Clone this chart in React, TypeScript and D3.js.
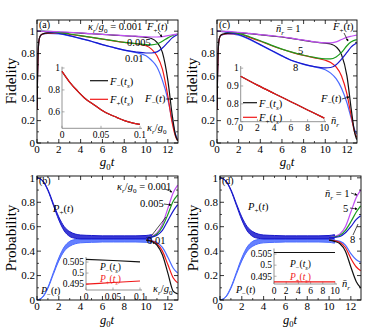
import React from 'react';
import * as d3 from 'd3';

// ---------- data ----------
const tPlus = [0, 1, 2, 3, 4, 5, 6, 7, 8, 9, 10, 10.5, 11, 11.5, 12, 12.4, 12.9];
const tMinus = [0, 0.05, 0.1, 0.2, 0.35, 0.6, 1, 2, 3, 4, 5, 6, 7, 8, 9, 10, 10.5, 11, 11.5, 12, 12.4, 12.7, 12.9];

// (a) fidelity, kappa_r/g0 = 0.001, 0.005, 0.01
const aPlus001 = [1, 0.999, 0.995, 0.99, 0.985, 0.978, 0.972, 0.966, 0.96, 0.955, 0.95, 0.948, 0.948, 0.952, 0.96, 0.967, 0.975];
const aPlus005 = [1, 0.998, 0.99, 0.975, 0.96, 0.945, 0.93, 0.915, 0.9, 0.89, 0.88, 0.878, 0.885, 0.91, 0.94, 0.96, 0.975];
const aPlus01 = [1, 0.995, 0.98, 0.96, 0.935, 0.91, 0.88, 0.855, 0.83, 0.815, 0.805, 0.805, 0.815, 0.85, 0.9, 0.94, 0.97];
const aMinus001 = [0.3, 0.6, 0.8, 0.93, 0.965, 0.978, 0.985, 0.99, 0.988, 0.983, 0.977, 0.971, 0.965, 0.959, 0.953, 0.945, 0.935, 0.9, 0.81, 0.56, 0.25, 0.07, 0.02];
const aMinus005 = [0.3, 0.6, 0.8, 0.93, 0.965, 0.977, 0.983, 0.985, 0.972, 0.958, 0.944, 0.929, 0.914, 0.9, 0.888, 0.87, 0.84, 0.78, 0.66, 0.42, 0.18, 0.06, 0.02];
const aMinus01 = [0.3, 0.6, 0.8, 0.93, 0.963, 0.975, 0.98, 0.975, 0.957, 0.933, 0.908, 0.879, 0.854, 0.83, 0.81, 0.78, 0.74, 0.68, 0.56, 0.39, 0.2, 0.08, 0.03];

// (c) fidelity, n_r = 1, 5, 8
const cPlus1 = [1, 0.998, 0.99, 0.98, 0.97, 0.96, 0.95, 0.935, 0.92, 0.905, 0.895, 0.895, 0.905, 0.925, 0.945, 0.955, 0.965];
const cPlus5 = [1, 0.995, 0.98, 0.95, 0.915, 0.875, 0.84, 0.81, 0.785, 0.765, 0.752, 0.752, 0.77, 0.81, 0.87, 0.905, 0.925];
const cPlus8 = [1, 0.99, 0.97, 0.93, 0.88, 0.83, 0.78, 0.735, 0.705, 0.683, 0.672, 0.675, 0.7, 0.75, 0.81, 0.86, 0.895];
const cMinus1 = [0.3, 0.6, 0.8, 0.93, 0.965, 0.975, 0.982, 0.985, 0.978, 0.968, 0.958, 0.948, 0.933, 0.918, 0.903, 0.893, 0.885, 0.86, 0.79, 0.6, 0.3, 0.1, 0.03];
const cMinus5 = [0.3, 0.6, 0.8, 0.93, 0.963, 0.973, 0.978, 0.975, 0.945, 0.91, 0.872, 0.838, 0.808, 0.783, 0.762, 0.74, 0.72, 0.68, 0.6, 0.44, 0.24, 0.1, 0.05];
const cMinus8 = [0.3, 0.6, 0.8, 0.93, 0.96, 0.97, 0.975, 0.965, 0.925, 0.877, 0.827, 0.777, 0.733, 0.703, 0.68, 0.655, 0.625, 0.575, 0.49, 0.36, 0.22, 0.12, 0.08];

// (b),(d) probability: common oscillating part (envelopes) and the diverging tails
const tBand = [0, 0.5, 1, 1.5, 2, 2.5, 3, 3.5, 4, 5, 6, 7, 8, 9, 10, 10.5];
const plusHi = [1, 0.98, 0.905, 0.79, 0.68, 0.6, 0.56, 0.54, 0.532, 0.528, 0.525, 0.525, 0.525, 0.525, 0.528, 0.535];
const plusLo = [1, 0.975, 0.895, 0.775, 0.655, 0.565, 0.52, 0.505, 0.5, 0.5, 0.5, 0.5, 0.5, 0.5, 0.5, 0.505];
const minusHi = [0, 0.025, 0.105, 0.225, 0.345, 0.435, 0.48, 0.495, 0.5, 0.5, 0.5, 0.5, 0.5, 0.5, 0.5, 0.495];
const minusLo = [0, 0.02, 0.095, 0.21, 0.32, 0.4, 0.44, 0.46, 0.468, 0.472, 0.475, 0.475, 0.475, 0.475, 0.472, 0.465];

const tTail = [10, 10.5, 11, 11.5, 12, 12.5, 12.9];
const bPlus001 = [0.51, 0.52, 0.55, 0.62, 0.75, 0.88, 0.94];
const bPlus005 = [0.51, 0.515, 0.54, 0.6, 0.7, 0.81, 0.86];
const bPlus01 = [0.51, 0.515, 0.53, 0.57, 0.65, 0.73, 0.78];
const bMinus001 = [0.49, 0.48, 0.45, 0.37, 0.22, 0.07, 0.05];
const bMinus005 = [0.49, 0.485, 0.46, 0.4, 0.29, 0.18, 0.14];
const bMinus01 = [0.49, 0.485, 0.47, 0.43, 0.35, 0.26, 0.22];

const dPlus1 = [0.51, 0.52, 0.54, 0.6, 0.72, 0.84, 0.9];
const dPlus5 = [0.51, 0.515, 0.53, 0.57, 0.64, 0.72, 0.77];
const dPlus8 = [0.51, 0.512, 0.52, 0.55, 0.6, 0.66, 0.69];
const dMinus1 = [0.49, 0.48, 0.46, 0.4, 0.27, 0.15, 0.1];
const dMinus5 = [0.49, 0.485, 0.47, 0.43, 0.34, 0.27, 0.24];
const dMinus8 = [0.49, 0.488, 0.48, 0.45, 0.38, 0.33, 0.31];

// insets
const insAx = [0, 0.01, 0.02, 0.03, 0.04, 0.05, 0.06, 0.07, 0.08, 0.09, 0.1];
const insAplus = [0.97, 0.87, 0.79, 0.72, 0.67, 0.62, 0.58, 0.55, 0.52, 0.5, 0.485];
const insAminus = [0.97, 0.87, 0.79, 0.72, 0.67, 0.62, 0.58, 0.55, 0.52, 0.5, 0.485];
const insCx = [0, 2, 4, 6, 8, 10];
const insCplus = [0.955, 0.905, 0.858, 0.812, 0.766, 0.72];
const insCminus = [0.955, 0.905, 0.858, 0.812, 0.766, 0.72];
const insBx = [0, 0.05, 0.1];
const insBminus = [0.5062, 0.5057, 0.5051];
const insBplus = [0.495, 0.4957, 0.4964];
const insDx = [0, 5, 10];
const insDminus = [0.5057, 0.5057, 0.5057];
const insDplus = [0.4925, 0.4925, 0.4925];

// ticks
const xMajor = [0, 2, 4, 6, 8, 10, 12];
const xMinor = [1, 3, 5, 7, 9, 11];
const yMajor = [0, 0.2, 0.4, 0.6, 0.8, 1];
const yMinor = [0.1, 0.3, 0.5, 0.7, 0.9];

const FONT = "'Liberation Serif','Times New Roman',serif";
const PURPLE = '#c050f2';
const GREEN = '#1c9c1c';
const BLUE = '#1818cc';
const BLACK = '#111';
const RED = '#f01818';
const LBLUE = '#4a6aff';

type Pt = [number, number];
type Sc = d3.ScaleLinear<number, number>;
type Part = [string, string];
const zip = (xs: number[], ys: number[]): Pt[] => xs.map((x, i) => [x, ys[i]]);

const F_PLUS_T: Part[] = [['F', 'i'], ['+', 's'], ['(', ''], ['t', 'i'], [')', '']];
const F_MINUS_T: Part[] = [['F', 'i'], ['\u2212', 's'], ['(', ''], ['t', 'i'], [')', '']];
const F_PLUS_TS: Part[] = [['F', 'i'], ['+', 's'], ['(', ''], ['t', 'i'], ['s', 'si'], [')', '']];
const F_MINUS_TS: Part[] = [['F', 'i'], ['\u2212', 's'], ['(', ''], ['t', 'i'], ['s', 'si'], [')', '']];
const P_PLUS_T: Part[] = [['P', 'i'], ['+', 's'], ['(', ''], ['t', 'i'], [')', '']];
const P_MINUS_T: Part[] = [['P', 'i'], ['\u2212', 's'], ['(', ''], ['t', 'i'], [')', '']];
const P_PLUS_TS: Part[] = [['P', 'i'], ['+', 's'], ['(', ''], ['t', 'i'], ['s', 'si'], [')', '']];
const P_MINUS_TS: Part[] = [['P', 'i'], ['\u2212', 's'], ['(', ''], ['t', 'i'], ['s', 'si'], [')', '']];
const KAPPA: Part[] = [['\u03BA', 'i'], ['r', 'si'], ['/', ''], ['g', 'i'], ['0', 's']];
const NBAR: Part[] = [['n\u0304', 'i'], ['r', 'si']];
const G0T: Part[] = [['g', 'i'], ['0', 's'], ['t', 'i']];

function Rich({ x, y, parts, size = 10.5, fill = '#000', anchor = 'start' }:
  { x: number; y: number; parts: Part[]; size?: number; fill?: string; anchor?: string }) {
  let shift = 0;
  return (
    <text x={x} y={y} fontSize={size} fill={fill} textAnchor={anchor} fontFamily={FONT}>
      {parts.map(([s, st], i) => {
        const isSub = st.includes('s');
        const target = isSub ? size * 0.3 : 0;
        const dy = target - shift;
        shift = target;
        return (
          <tspan key={i} dy={dy} fontStyle={st.includes('i') ? 'italic' : 'normal'} fontSize={isSub ? size * 0.68 : size}>
            {s}
          </tspan>
        );
      })}
    </text>
  );
}

function Curve({ x, y, data, color, width = 1.2 }: { x: Sc; y: Sc; data: Pt[]; color: string; width?: number }) {
  const line = d3.line<Pt>().x(d => x(d[0])).y(d => y(d[1])).curve(d3.curveMonotoneX);
  return <path d={line(data) || ''} fill="none" stroke={color} strokeWidth={width} />;
}

function Band({ x, y, t, lo, hi, color }: { x: Sc; y: Sc; t: number[]; lo: number[]; hi: number[]; color: string }) {
  const area = d3.area<number>()
    .x((_, i) => x(t[i]))
    .y0((_, i) => y(lo[i]))
    .y1((_, i) => y(hi[i]))
    .curve(d3.curveMonotoneX);
  return <path d={area(t) || ''} fill={color} fillOpacity={0.85} stroke={color} strokeWidth={1} />;
}

function Frame({ x, y }: { x: Sc; y: Sc }) {
  const [x0, x1] = x.range();
  const [y0, y1] = y.range();
  return (
    <g fontFamily={FONT} fontSize={11}>
      <rect x={x0} y={y1} width={x1 - x0} height={y0 - y1} fill="none" stroke="#000" strokeWidth={0.9} />
      {xMajor.map(t => (
        <g key={'xm' + t}>
          <line x1={x(t)} x2={x(t)} y1={y0} y2={y0 - 4} stroke="#000" strokeWidth={0.8} />
          <line x1={x(t)} x2={x(t)} y1={y1} y2={y1 + 4} stroke="#000" strokeWidth={0.8} />
          <text x={x(t)} y={y0 + 9.5} textAnchor="middle">{t}</text>
        </g>
      ))}
      {xMinor.map(t => (
        <g key={'xn' + t}>
          <line x1={x(t)} x2={x(t)} y1={y0} y2={y0 - 2} stroke="#000" strokeWidth={0.7} />
          <line x1={x(t)} x2={x(t)} y1={y1} y2={y1 + 2} stroke="#000" strokeWidth={0.7} />
        </g>
      ))}
      {yMajor.map(v => (
        <g key={'ym' + v}>
          <line x1={x0} x2={x0 + 4} y1={y(v)} y2={y(v)} stroke="#000" strokeWidth={0.8} />
          <line x1={x1} x2={x1 - 4} y1={y(v)} y2={y(v)} stroke="#000" strokeWidth={0.8} />
          <text x={x0 - 2} y={y(v) + 3.8} textAnchor="end">{String(v)}</text>
        </g>
      ))}
      {yMinor.map(v => (
        <g key={'yn' + v}>
          <line x1={x0} x2={x0 + 2} y1={y(v)} y2={y(v)} stroke="#000" strokeWidth={0.7} />
          <line x1={x1} x2={x1 - 2} y1={y(v)} y2={y(v)} stroke="#000" strokeWidth={0.7} />
        </g>
      ))}
    </g>
  );
}

function InsetAxes({ x, y, xt, yt, xEnd }: { x: Sc; y: Sc; xt: number[]; yt: number[]; xEnd: number }) {
  const [x0] = x.range();
  const [y0, y1] = y.range();
  return (
    <g fontFamily={FONT} fontSize={9.5}>
      <line x1={x0} x2={x0} y1={y0} y2={y1} stroke="#888" strokeWidth={0.9} />
      <line x1={x0} x2={xEnd} y1={y0} y2={y0} stroke="#888" strokeWidth={0.9} />
      {xt.map(t => (
        <g key={'ix' + t}>
          <line x1={x(t)} x2={x(t)} y1={y0} y2={y0 - 2.5} stroke="#888" strokeWidth={0.7} />
          <text x={x(t)} y={y0 + 9.5} textAnchor="middle">{String(t)}</text>
        </g>
      ))}
      {yt.map(v => (
        <g key={'iy' + v}>
          <line x1={x0} x2={x0 + 2.5} y1={y(v)} y2={y(v)} stroke="#888" strokeWidth={0.7} />
          <text x={x0 - 2} y={y(v) + 3.3} textAnchor="end">{String(v)}</text>
        </g>
      ))}
    </g>
  );
}

function Arrow({ x1, y1, x2, y2 }: { x1: number; y1: number; x2: number; y2: number }) {
  return <line x1={x1} y1={y1} x2={x2} y2={y2} stroke="#000" strokeWidth={0.7} markerEnd="url(#ah)" />;
}

export default function App() {
  const xMax = 12.93;
  const yTop = d3.scaleLinear().domain([0, 1.1]).range([143, 20]);
  const yBot = d3.scaleLinear().domain([0, 1.015]).range([300, 176]);
  const xA = d3.scaleLinear().domain([0, xMax]).range([37, 178]);
  const xC = d3.scaleLinear().domain([0, xMax]).range([217, 357]);
  const xB = d3.scaleLinear().domain([0, xMax]).range([37, 178]);
  const xD = d3.scaleLinear().domain([0, xMax]).range([220, 361]);

  // insets
  const iaX = d3.scaleLinear().domain([0, 0.1]).range([62, 140]);
  const iaY = d3.scaleLinear().domain([0.45, 1.012]).range([128.3, 66.7]);
  const icX = d3.scaleLinear().domain([0, 10]).range([240.7, 324.3]);
  const icY = d3.scaleLinear().domain([0.7, 1.012]).range([121.7, 66]);
  const ibX = d3.scaleLinear().domain([0, 0.1]).range([86, 140]);
  const ibY = d3.scaleLinear().domain([0.4923, 0.5073]).range([290, 257]);
  const idX = d3.scaleLinear().domain([0, 10]).range([274, 335]);
  const idY = d3.scaleLinear().domain([0.4915, 0.5075]).range([284, 248.5]);

  const clip = (id: string, x: Sc, y: Sc) => {
    const [x0, x1] = x.range();
    const [y0, y1] = y.range();
    return <clipPath id={id}><rect x={x0} y={y1} width={x1 - x0} height={y0 - y1} /></clipPath>;
  };

  const probPanel = (x: Sc, id: string, p: number[][], m: number[][]) => (
    <g clipPath={`url(#${id})`}>
      <Band x={x} y={yBot} t={tBand} lo={minusLo} hi={minusHi} color={LBLUE} />
      <Curve x={x} y={yBot} data={zip(tTail, m[2])} color={LBLUE} />
      <Curve x={x} y={yBot} data={zip(tTail, m[1])} color={RED} />
      <Curve x={x} y={yBot} data={zip(tTail, m[0])} color={BLACK} />
      <Band x={x} y={yBot} t={tBand} lo={plusLo} hi={plusHi} color={BLUE} />
      <Curve x={x} y={yBot} data={zip(tTail, p[0])} color={PURPLE} />
      <Curve x={x} y={yBot} data={zip(tTail, p[1])} color={GREEN} />
      <Curve x={x} y={yBot} data={zip(tTail, p[2])} color={BLUE} />
    </g>
  );

  const fidPanel = (x: Sc, id: string, p: number[][], m: number[][]) => (
    <g clipPath={`url(#${id})`}>
      <Curve x={x} y={yTop} data={zip(tMinus, m[2])} color={LBLUE} />
      <Curve x={x} y={yTop} data={zip(tMinus, m[1])} color={RED} />
      <Curve x={x} y={yTop} data={zip(tMinus, m[0])} color={BLACK} />
      <Curve x={x} y={yTop} data={zip(tPlus, p[2])} color={BLUE} />
      <Curve x={x} y={yTop} data={zip(tPlus, p[1])} color={GREEN} />
      <Curve x={x} y={yTop} data={zip(tPlus, p[0])} color={PURPLE} />
    </g>
  );

  return (
    <svg width={390} height={329} style={{ position: 'absolute', left: 0, top: 0, background: '#fff' }}>
      <defs>
        {clip('clA', xA, yTop)}
        {clip('clC', xC, yTop)}
        {clip('clB', xB, yBot)}
        {clip('clD', xD, yBot)}
        <marker id="ah" viewBox="0 0 6 6" refX="5" refY="3" markerWidth="4" markerHeight="4" orient="auto">
          <path d="M0,0L6,3L0,6z" fill="#000" />
        </marker>
      </defs>

      {/* axis titles */}
      <text transform="translate(16,81) rotate(-90)" textAnchor="middle" fontFamily={FONT} fontSize={15}>Fidelity</text>
      <text transform="translate(16,238) rotate(-90)" textAnchor="middle" fontFamily={FONT} fontSize={15}>Probability</text>
      <text transform="translate(197,81) rotate(-90)" textAnchor="middle" fontFamily={FONT} fontSize={15}>Fidelity</text>
      <text transform="translate(198,238) rotate(-90)" textAnchor="middle" fontFamily={FONT} fontSize={15}>Probability</text>
      <Rich x={107} y={166} parts={G0T} size={13} anchor="middle" />
      <Rich x={287} y={166} parts={G0T} size={13} anchor="middle" />
      <Rich x={107} y={323.5} parts={G0T} size={12.5} anchor="middle" />
      <Rich x={290} y={323.5} parts={G0T} size={12.5} anchor="middle" />

      {/* (a) */}
      {fidPanel(xA, 'clA', [aPlus001, aPlus005, aPlus01], [aMinus001, aMinus005, aMinus01])}
      <Frame x={xA} y={yTop} />
      <InsetAxes x={iaX} y={iaY} xt={[0, 0.05, 0.1]} yt={[0.6, 0.8, 1]} xEnd={142} />
      <Curve x={iaX} y={iaY} data={zip(insAx, insAminus)} color={BLACK} />
      <Curve x={iaX} y={iaY} data={zip(insAx, insAplus)} color={RED} />
      <line x1={90} x2={108} y1={80.7} y2={80.7} stroke={BLACK} strokeWidth={1.2} />
      <line x1={90} x2={108} y1={99.3} y2={99.3} stroke={RED} strokeWidth={1.2} />
      <Rich x={110} y={84.5} parts={F_MINUS_TS} size={10.5} />
      <Rich x={110} y={103} parts={F_PLUS_TS} size={10.5} />
      <Rich x={147} y={131} parts={KAPPA} size={10.5} />
      <text x={39} y={28} fontFamily={FONT} fontSize={10}>(a)</text>
      <Rich x={88} y={30} parts={[...KAPPA, [' = 0.001', '']]} size={10.5} />
      <text x={127} y={46} fontFamily={FONT} fontSize={10.5}>0.005</text>
      <text x={125} y={62} fontFamily={FONT} fontSize={10.5}>0.01</text>
      <Rich x={147} y={30} parts={F_PLUS_T} size={10.5} />
      <Arrow x1={158} y1={32} x2={162} y2={37} />
      <Rich x={145} y={102} parts={F_MINUS_T} size={10.5} />
      <Arrow x1={166} y1={99} x2={173} y2={99} />

      {/* (c) */}
      {fidPanel(xC, 'clC', [cPlus1, cPlus5, cPlus8], [cMinus1, cMinus5, cMinus8])}
      <Frame x={xC} y={yTop} />
      <InsetAxes x={icX} y={icY} xt={[0, 2, 4, 6, 8, 10]} yt={[0.7, 0.8, 0.9, 1]} xEnd={326} />
      <Curve x={icX} y={icY} data={zip(insCx, insCminus)} color={BLACK} />
      <Curve x={icX} y={icY} data={zip(insCx, insCplus)} color={RED} />
      <line x1={243} x2={257} y1={102.7} y2={102.7} stroke={BLACK} strokeWidth={1.2} />
      <line x1={243} x2={257} y1={117.3} y2={117.3} stroke={RED} strokeWidth={1.2} />
      <Rich x={259} y={106.5} parts={F_MINUS_TS} size={10.5} />
      <Rich x={259} y={121} parts={F_PLUS_TS} size={10.5} />
      <Rich x={331} y={124} parts={NBAR} size={10.5} />
      <text x={219} y={28} fontFamily={FONT} fontSize={10}>(c)</text>
      <Rich x={276} y={32} parts={[...NBAR, [' = 1', '']]} size={10.5} />
      <text x={298} y={54} fontFamily={FONT} fontSize={10.5}>5</text>
      <text x={293} y={71} fontFamily={FONT} fontSize={10.5}>8</text>
      <Rich x={333} y={30} parts={F_PLUS_T} size={10.5} />
      <Arrow x1={344} y1={33} x2={348} y2={41} />
      <Rich x={321} y={102} parts={F_MINUS_T} size={10.5} />
      <Arrow x1={342} y1={99} x2={349} y2={97} />

      {/* (b) */}
      {probPanel(xB, 'clB', [bPlus001, bPlus005, bPlus01], [bMinus001, bMinus005, bMinus01])}
      <Frame x={xB} y={yBot} />
      <InsetAxes x={ibX} y={ibY} xt={[0, 0.05, 0.1]} yt={[0.495, 0.5, 0.505]} xEnd={142} />
      <Curve x={ibX} y={ibY} data={zip(insBx, insBminus)} color={BLACK} />
      <Curve x={ibX} y={ibY} data={zip(insBx, insBplus)} color={RED} />
      <Rich x={100} y={270} parts={P_MINUS_TS} size={9.5} />
      <Rich x={100} y={282} parts={P_PLUS_TS} size={9.5} fill={RED} />
      <Rich x={153} y={292} parts={KAPPA} size={10.5} />
      <text x={39} y={184} fontFamily={FONT} fontSize={10}>(b)</text>
      <Rich x={53} y={212} parts={P_PLUS_T} size={10.5} />
      <Rich x={41} y={294} parts={P_MINUS_T} size={10} />
      <Rich x={117} y={190} parts={[...KAPPA, [' = 0.001', '']]} size={10.5} />
      <Arrow x1={165} y1={189} x2={172} y2={192} />
      <text x={140} y={207} fontFamily={FONT} fontSize={10.5}>0.005</text>
      <Arrow x1={164} y1={204} x2={171} y2={205} />
      <text x={147} y={244} fontFamily={FONT} fontSize={10.5}>0.01</text>
      <line x1={152} y1={235} x2={166} y2={217} stroke="#000" strokeWidth={0.7} />

      {/* (d) */}
      {probPanel(xD, 'clD', [dPlus1, dPlus5, dPlus8], [dMinus1, dMinus5, dMinus8])}
      <Frame x={xD} y={yBot} />
      <InsetAxes x={idX} y={idY} xt={[0, 2, 4, 6, 8, 10]} yt={[0.495, 0.5, 0.505]} xEnd={337} />
      <Curve x={idX} y={idY} data={zip(insDx, insDminus)} color={BLACK} />
      <Curve x={idX} y={idY} data={zip(insDx, insDplus)} color={RED} />
      <Rich x={290} y={267} parts={P_MINUS_TS} size={9.5} />
      <Rich x={290} y={280} parts={P_PLUS_TS} size={9.5} fill={RED} />
      <Rich x={342} y={287} parts={NBAR} size={10.5} />
      <text x={222} y={184} fontFamily={FONT} fontSize={10}>(d)</text>
      <Rich x={248} y={210} parts={P_PLUS_T} size={10.5} />
      <Rich x={236} y={293} parts={P_MINUS_T} size={10} />
      <Rich x={325} y={197} parts={[...NBAR, [' = 1', '']]} size={10.5} />
      <Arrow x1={351} y1={193} x2={357} y2={195} />
      <text x={343} y={212} fontFamily={FONT} fontSize={10.5}>5</text>
      <Arrow x1={350} y1={208} x2={357} y2={209} />
      <text x={350} y={243} fontFamily={FONT} fontSize={10.5}>8</text>
      <line x1={353} y1={235} x2={358} y2={224} stroke="#000" strokeWidth={0.7} />
    </svg>
  );
}
